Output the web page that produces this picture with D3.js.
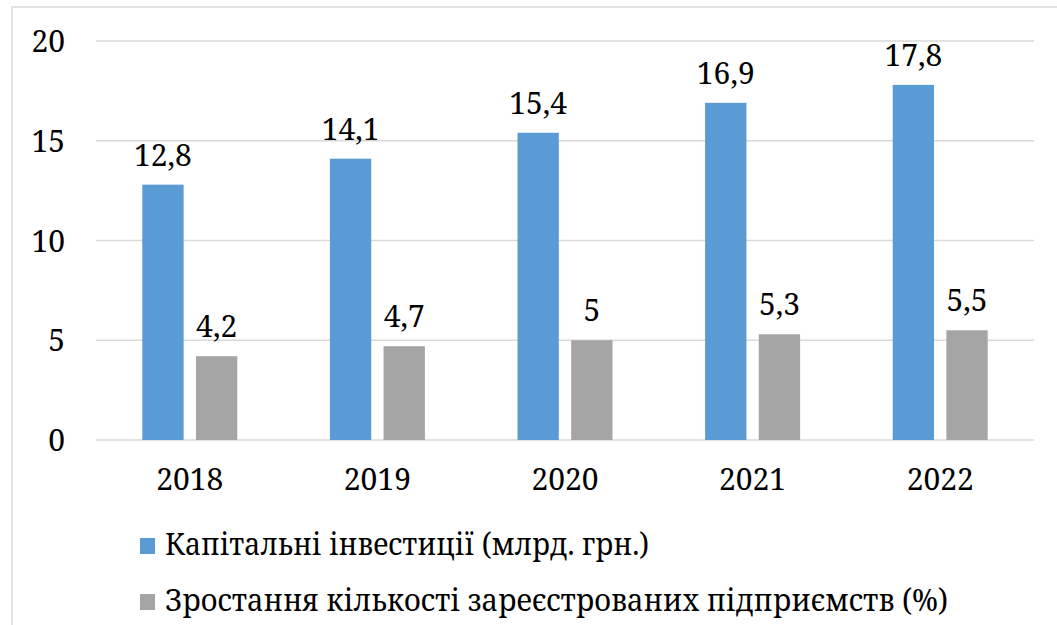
<!DOCTYPE html>
<html lang="uk">
<head>
<meta charset="UTF-8">
<script src="https://d3js.org/d3.v7.min.js"></script>
<style>
    body { margin: 0; background: #fff; }
</style>
</head>
<body>
<script>
    const years = ['2018', '2019', '2020', '2021', '2022'];
    const invest = [12.8, 14.1, 15.4, 16.9, 17.8];
    const growth = [4.2, 4.7, 5, 5.3, 5.5];
    const seriesNames = ['Капітальні інвестиції (млрд. грн.)', 'Зростання кількості зареєстрованих підприємств (%)'];
    const yTicks = [0, 5, 10, 15, 20];

    const width = 1057, height = 625;
    const colors = ['#5b9bd5', '#a5a5a5'];

    const svg = d3.select('body').append('svg')
        .attr('width', width)
        .attr('height', height)
        .attr('font-family', '"Noto Serif", "DejaVu Serif", serif')
        .attr('fill', '#000');

    // outer frame
    svg.append('rect')
        .attr('x', 12).attr('y', 7)
        .attr('width', width).attr('height', height)
        .attr('fill', 'none')
        .attr('stroke', '#d9d9d9')
        .attr('stroke-width', 1.5);

    const x = d3.scaleBand().domain(years).range([96, 1034]).paddingInner(0).paddingOuter(0);
    const y = d3.scaleLinear().domain([0, 20]).range([440, 41]);
    const x1 = d3.scaleBand().domain([0, 1]).range([x.bandwidth() / 2 - 47.5, x.bandwidth() / 2 + 47.5]).paddingInner(0.23);

    svg.append('g')
        .selectAll('line').data(yTicks).enter().append('line')
        .attr('x1', 96).attr('x2', 1034)
        .attr('y1', d => y(d)).attr('y2', d => y(d))
        .attr('stroke', '#d9d9d9')
        .attr('stroke-width', 1.5);

    svg.append('g').selectAll('text').data(yTicks).enter().append('text')
        .attr('x', 65).attr('y', d => y(d) + 11)
        .attr('text-anchor', 'end')
        .attr('font-size', 30)
        .text(d => d);

    const rows = years.map((yr, i) => ({ yr, vals: [invest[i], growth[i]] }));
    const fmt = v => String(v).replace('.', ',');

    const groups = svg.append('g').selectAll('g').data(rows).enter().append('g')
        .attr('transform', d => `translate(${x(d.yr)},0)`);

    groups.selectAll('rect').data(d => d.vals).enter().append('rect')
        .attr('x', (d, i) => x1(i))
        .attr('width', x1.bandwidth())
        .attr('y', d => y(d))
        .attr('height', d => y(0) - y(d))
        .attr('fill', (d, i) => colors[i]);

    groups.selectAll('text.val').data(d => d.vals).enter().append('text')
        .attr('class', 'val')
        .attr('x', (d, i) => x1(i) + x1.bandwidth() / 2)
        .attr('y', d => y(d) - 19)
        .attr('text-anchor', 'middle')
        .attr('font-size', 30)
        .text(fmt);

    svg.append('g').selectAll('text').data(years).enter().append('text')
        .attr('x', d => x(d) + x.bandwidth() / 2)
        .attr('y', 490)
        .attr('text-anchor', 'middle')
        .attr('font-size', 30)
        .text(d => d);

    // legend
    const legendY = [555, 611];
    const legendW = [484, 783];
    const legend = svg.append('g').selectAll('g').data(seriesNames).enter().append('g');
    legend.append('rect')
        .attr('x', 140).attr('y', (d, i) => legendY[i] - 17)
        .attr('width', 15).attr('height', 16)
        .attr('fill', (d, i) => colors[i]);
    legend.append('text')
        .attr('x', 165).attr('y', (d, i) => legendY[i])
        .attr('textLength', (d, i) => legendW[i])
        .attr('lengthAdjust', 'spacingAndGlyphs')
        .attr('font-size', 30)
        .text(d => d);
</script>
</body>
</html>
